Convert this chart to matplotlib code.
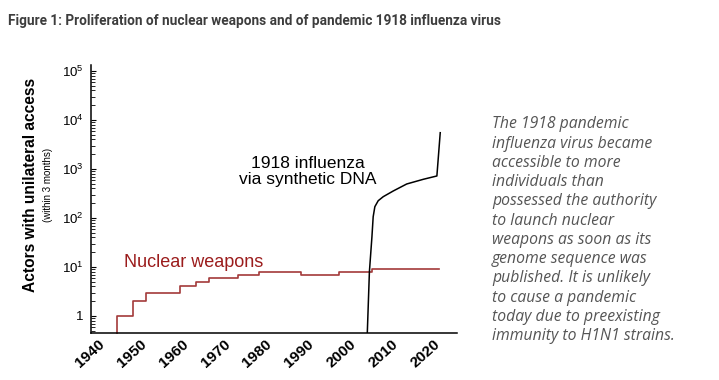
import matplotlib
matplotlib.use("Agg")
import matplotlib.pyplot as plt
import matplotlib.transforms as mtransforms
from matplotlib.ticker import FixedLocator, FixedFormatter, LogLocator, NullFormatter

plt.rcParams['font.family'] = ['Liberation Sans', 'DejaVu Sans']
plt.rcParams['mathtext.fontset'] = 'custom'
plt.rcParams['mathtext.rm'] = 'Liberation Sans'
plt.rcParams['mathtext.it'] = 'Liberation Sans:italic'
plt.rcParams['mathtext.bf'] = 'Liberation Sans:bold'

# data
nuclear_years = [1945, 1949, 1952, 1960, 1964, 1967, 1974, 1979, 1989, 1998, 2006, 2022]
nuclear_counts = [1, 2, 3, 4, 5, 6, 7, 8, 7, 8, 9, 9]

flu_years = [2004.8, 2005.3, 2005.9, 2006.2, 2006.6, 2007.4, 2008.6, 2011.0, 2014.2, 2018.2, 2021.4, 2022.2]
flu_counts = [0.46, 8, 41, 106, 170, 225, 272, 356, 494, 617, 720, 5500]

x_ticks = [1940, 1950, 1960, 1970, 1980, 1990, 2000, 2010, 2020]
y_ticks = [1, 10, 100, 1000, 10000, 100000]
y_labels = ['1', r'$10^{1}$', r'$10^{2}$', r'$10^{3}$', r'$10^{4}$', r'$10^{5}$']

side_lines = [
    "The 1918 pandemic",
    "influenza virus became",
    "accessible to more",
    "individuals than",
    "possessed the authority",
    "to launch nuclear",
    "weapons as soon as its",
    "genome sequence was",
    "published. It is unlikely",
    "to cause a pandemic",
    "today due to preexisting",
    "immunity to H1N1 strains.",
]

W, H = 719, 380
fig = plt.figure(figsize=(W / 100, H / 100), dpi=100)
ax = fig.add_axes([90.7 / W, 1 - 332.5 / H, (457 - 90.7) / W, (332.5 - 65) / H])

ymin, ymax = 0.46, 10 ** 5.122
ax.set_yscale('log')
ax.set_xlim(1938.8, 2026.2)
ax.set_ylim(ymin, ymax)

red = '#a33a3a'
ax.step([nuclear_years[0]] + nuclear_years, [ymin] + nuclear_counts,
        where='post', color=red, lw=1.2, clip_on=False)
ax.plot(flu_years, flu_counts, color='black', lw=1.1)

for s in ['top', 'right']:
    ax.spines[s].set_visible(False)
for s in ['left', 'bottom']:
    ax.spines[s].set_linewidth(1.1)

ax.yaxis.set_major_locator(FixedLocator(y_ticks))
ax.yaxis.set_major_formatter(FixedFormatter(y_labels))
ax.yaxis.set_minor_locator(LogLocator(base=10, subs=range(2, 10), numticks=20))
ax.yaxis.set_minor_formatter(NullFormatter())
ax.tick_params(axis='y', which='major', direction='in', length=3.5, width=0.8,
               labelsize=9.5, pad=5)
ax.tick_params(axis='y', which='minor', direction='in', length=2.8, width=0.6)

ax.set_xticks(x_ticks)
ax.set_xticklabels([str(t) for t in x_ticks], rotation=42, ha='center',
                   fontsize=11, fontweight='bold')
ax.tick_params(axis='x', length=0, pad=3)
offset = mtransforms.ScaledTranslation(-6 / 100, 0, fig.dpi_scale_trans)
for lab in ax.get_xticklabels():
    lab.set_transform(lab.get_transform() + offset)

ax.text(1946.7, 10 ** 1.0, "Nuclear weapons", color='#9b1c1c', fontsize=13,
        ha='left', va='baseline')
ax.text(1990.5, 10 ** 2.95, "1918 influenza\nvia synthetic DNA", color='black',
        fontsize=12.5, ha='center', va='center', linespacing=1.1)

fig.text(31 / W, 1 - 185 / H, "Actors with unilateral access", rotation=90,
         fontsize=11.2, fontweight='bold', ha='center', va='center')
fig.text(48 / W, 1 - 185 / H, "(within 3 months)", rotation=90,
         fontsize=7, ha='center', va='center')

fig.text(8 / W, 1 - 25 / H,
         "Figure 1: Proliferation of nuclear weapons and of pandemic 1918 influenza virus",
         family='Roboto', fontweight='bold', fontsize=9.8, color='#3d3d3d',
         ha='left', va='baseline')

for i, line in enumerate(side_lines):
    fig.text(492 / W, 1 - (128.3 + i * 19.25) / H, line, family='Open Sans',
             style='italic', fontsize=11.3, color='#555555', ha='left', va='baseline')

fig.savefig('out.png', dpi=100, facecolor='white')
